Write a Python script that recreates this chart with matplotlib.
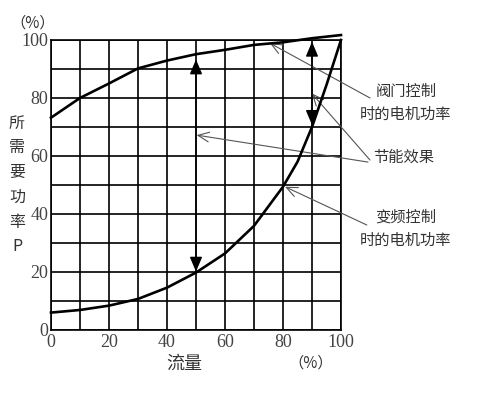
import matplotlib
matplotlib.use("Agg")
import matplotlib.pyplot as plt

# data
flow = [0, 10, 20, 30, 40, 50, 60, 70, 80, 90, 100]
valve_power = [73.2, 80.0, 85.0, 90.2, 92.9, 95.1, 96.6, 98.3, 99.2, 100.6, 101.7]

flow_vfd = [0, 10, 20, 30, 40, 50, 60, 70, 80, 85, 90, 95, 100]
vfd_power = [6.0, 6.9, 8.4, 10.7, 14.6, 19.8, 26.4, 35.9, 49.4, 58.0, 70.0, 84.5, 100.0]

gap_x = [50, 90]              # where the saving arrows are drawn
gap_top = [93.3, 99.4]
gap_bottom = [20.1, 70.7]

ticks = [0, 20, 40, 60, 80, 100]
tick_labels = ["0", "20", "40", "60", "80", "100"]

txt_valve = "阀门控制\n时的电机功率"
txt_saving = "节能效果"
txt_vfd = "变频控制\n时的电机功率"
ylab = "所\n需\n要\n功\n率\nP"
xlab = "流量"
unit = "（%）"

cjk = ["Noto Sans CJK SC", "DejaVu Sans"]
serif = ["Liberation Serif", "DejaVu Serif"]
tcol = "#333333"

fig = plt.figure(figsize=(5.0, 3.97), dpi=100)
ax = fig.add_axes([0.102, 0.1688, 0.58, 0.7305])
ax.set_xlim(0, 100)
ax.set_ylim(0, 100)

ax.set_xticks(ticks)
ax.set_yticks(ticks)
ax.set_xticklabels(tick_labels, family=serif, fontsize=13, color="#444444")
ax.set_yticklabels(tick_labels, family=serif, fontsize=13, color="#444444")
ax.set_xticks(range(10, 100, 20), minor=True)
ax.set_yticks(range(10, 100, 20), minor=True)
ax.tick_params(which="both", length=0)
ax.tick_params(axis="x", pad=3)
ax.tick_params(axis="y", pad=2)
ax.grid(True, which="both", color="black", lw=1.2)
for s in ax.spines.values():
    s.set_linewidth(1.2)

ax.plot(flow, valve_power, color="black", lw=1.9, clip_on=False, zorder=4)
ax.plot(flow_vfd, vfd_power, color="black", lw=1.9, clip_on=False, zorder=4)

# filled double arrows between the curves
for gx, gt, gb in zip(gap_x, gap_top, gap_bottom):
    ax.annotate("", xy=(gx, gt), xytext=(gx, gb),
                arrowprops=dict(arrowstyle="<|-|>,head_length=0.9,head_width=0.38",
                                mutation_scale=10, color="black", lw=1.0,
                                shrinkA=0, shrinkB=0),
                annotation_clip=False, zorder=5)

# thin pointer lines
arr = dict(arrowstyle="->,head_length=0.8,head_width=0.35", mutation_scale=10,
           color="#555555", lw=0.8, shrinkA=0, shrinkB=0)
pointers = [((75.5, 98.9), (110.0, 80.0)),
            ((89.9, 81.6), (110.0, 58.6)),
            ((50.2, 67.2), (109.3, 57.9)),
            ((80.7, 49.4), (108.9, 36.2))]
for tip, start in pointers:
    ax.annotate("", xy=tip, xytext=start, arrowprops=arr, annotation_clip=False)

ax.text(122.4, 78.3, txt_valve, family=cjk, fontsize=11, color=tcol,
        ha="center", va="center", linespacing=1.5, clip_on=False)
ax.text(121.7, 59.7, txt_saving, family=cjk, fontsize=11, color=tcol,
        ha="center", va="center", clip_on=False)
ax.text(122.4, 34.8, txt_vfd, family=cjk, fontsize=11, color=tcol,
        ha="center", va="center", linespacing=1.5, clip_on=False)

fig.text(17 / 500, 1 - 185 / 397, ylab, family=cjk, fontsize=11.5, color=tcol,
         ha="center", va="center", linespacing=1.6)
fig.text(33 / 500, 1 - 23 / 397, unit, family=cjk, fontsize=11, color=tcol,
         ha="center", va="center")
fig.text(184 / 500, 1 - 364 / 397, xlab, family=cjk, fontsize=13, color=tcol,
         ha="center", va="center")
fig.text(311 / 500, 1 - 363 / 397, unit, family=cjk, fontsize=11, color=tcol,
         ha="center", va="center")

fig.savefig("out.png", dpi=100, facecolor="white")
